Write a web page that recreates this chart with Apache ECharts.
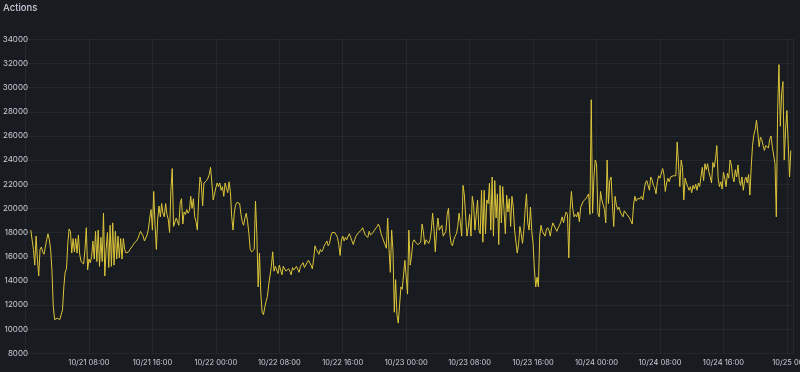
<!DOCTYPE html>
<html>
<head>
<meta charset="utf-8">
<script src="https://cdn.jsdelivr.net/npm/echarts@6/dist/echarts.min.js"></script>
<style>
html,body{margin:0;padding:0;background:#181b1f;}
#c{width:800px;height:372px;}
</style>
</head>
<body>
<div id="c"></div>
<script>
// Series: "Actions", one sample every 10 minutes starting 10/21 00:40 (UTC)
const seriesName = 'Actions';
const startTime = Date.UTC(2023, 9, 21, 0, 40);
const stepMinutes = 10;

const valuesPart1 = [
18200,18300,16600,15300,17700,15800,14400,16600,16800,16400,16200,16100,17400,17900,17400,16600,14900,11900,10800,10700,
10900,10800,10800,10900,11600,13500,14700,15000,17100,18300,18100,16300,17500,16400,17500,16300,17800,16200,15600,15500,
15400,16600,18400,14900,15800,15500,16000,17300,15800,18100,15600,18200,15200,17600,15600,19600,14400,16600,18000,15100,
18600,15200,18800,15300,18100,15800,17700,15900,17500,15800,17500,16600,16300,16200,16400,16600,16700,16900,17100,17200,
17300,17500,17800,18100,18200,17700,17300,17400,17800,18300,19200,19900,18200,21400,18600,16600,19100,20200,19300,20400,
19600,19300,20400,19500,19100,18000,21500,23300,18500,18600,19200,19100,18600,20400,20800,18700,19700,19500,19900,19600,
19800,21000,20000,20800,19300,18900,18200,20800,22600,22100,20200,22100,22200,22300,22500,22800,23400,22100,20700,20600
];
const valuesPart2 = [
21700,22100,21800,22100,21500,21800,21000,22100,21700,21300,22200,21400,19300,18200,19700,20300,20500,20600,20400,19500,
18900,18600,19200,19600,18900,17900,16600,16400,16500,16600,20600,17900,13500,16300,13000,11400,11200,11800,12300,12700,
13700,13700,15200,16400,14800,15200,15300,14600,15300,14900,14500,15200,15300,14800,14700,15000,14800,14500,15100,14900,
14800,15200,15300,14700,15200,15300,15500,15100,15200,15500,15700,15600,15300,15000,15800,16900,16600,16600,16200,16600,
16400,16600,16900,17100,17300,16900,17100,17700,18000,18100,18000,17900,17600,17000,16100,17400,17700,17300,17600,17400,
17700,17900,17600,17300,17000,17400,17700,17800,18000,17900,18200,18400,18400,17800,17900,17600,18100,17800,17700,18000,
18200,18300,18500,18700,18400,17900,17600,17300,17200,16700,19200,16600,14700,18200,16500,11400,14100,11200,10500,10600,
13500,13300,14500
];
const valuesPart3 = [
15700,15600,12900,18200,15300,16000,17200,17400,17200,17200,17000,17000,17200,18700,18100,17000,17400,17500,17100,17400,
18200,19600,18300,16400,18100,19200,18200,18200,18600,17700,17700,18100,19500,20000,17900,17100,16900,17400,17700,17900,
18500,19600,18800,17700,21900,21100,19300,17700,18500,19500,17700,21000,20300,18200,19500,20700,18200,17900,21500,17200,
21500,17900,20700,20400,22100,18200,22600,17700,22300,19200,21200,17000,21900,18800,21800,19900,17900,21100,19700,20800,
18500,21000,20100,18200,18300,16300,17000,18500,17900,17100,18200,19900,21200,18800,18200,20100,18100,17100,14900,13500,
14300,13500,17700,18600,18100,18200,17700,18200,18400,18200,17700,18400,18800,18800,18300,18100,18400,18600,18900,19300,
18800,19300,19700,19500,15900,19900,21400,20000,19300,19500,19300,19700,18900,20100,20200,20600,20700,20800,21000,21200,
19500,29000,19600,22500
];
const valuesPart4 = [
24000,23700,19600,19300,21400,20700,20300,19900,18800,24000,20400,22300,22600,20400,18500,21000,20300,19900,20100,19700,
19600,19300,19800,19700,19500,19600,19200,19200,18700,20300,21000,20600,20800,20700,20800,21000,20700,21500,22100,22300,
22400,21500,22600,22400,21900,21700,21200,22200,22700,22500,22500,23300,22800,21400,22100,22500,22200,22600,22500,22700,
22800,22700,25500,25400,21800,24000,23400,20700,22500,22100,21800,21500,21800,21300,21900,21600,22000,21500,22100,21800,
21700,23400,22300,23700,23200,23700,23000,22600,22100,23800,23400,24100,25200,22500,21800,22200,21600,23000,22500,21800,
22900,22500,24000,23600,22600,22200,23200,22600,23600,22300,21900,22600,21500,22300,22600,22100,22800,21100,23400,25200,
26100,26500,27300,26300,25100,25900,25700,25200,24800,25200,25200,25000,25700,26000,25100,25200,23700,19300,28100,31900,
26800,29500,30500,24000,26500,28100,25400,22600,24800
];
const values = valuesPart1.concat(valuesPart2, valuesPart3, valuesPart4);

// Axis settings
const yMin = 8000, yMax = 34000, yStep = 2000;
const xMin = Date.UTC(2023, 9, 21, 0, 0);
const xMax = Date.UTC(2023, 9, 25, 0, 50);
const xStepHours = 8;

const stepMs = stepMinutes * 60 * 1000;
const data = values.map((v, i) => [startTime + i * stepMs, v]);

function pad(n){ return (n < 10 ? '0' : '') + n; }
function fmtTime(v){
  if (v < startTime) return '';
  const d = new Date(v);
  return pad(d.getUTCMonth() + 1) + '/' + pad(d.getUTCDate()) + ' ' + pad(d.getUTCHours()) + ':' + pad(d.getUTCMinutes());
}

const textColor = '#ccccdc';
const gridColor = 'rgba(240,250,255,0.055)';
const fontFam = 'Inter, "Noto Sans", sans-serif';

const chart = echarts.init(document.getElementById('c'), null, {renderer: 'canvas'});
chart.setOption({
  backgroundColor: '#181b1f',
  animation: false,
  title: {
    text: seriesName,
    left: 3, top: 3, padding: 0,
    textStyle: {color: textColor, fontSize: 9.5, fontWeight: 500, fontFamily: fontFam}
  },
  grid: {left: 25.5, right: 6.5, top: 39.3, bottom: 18.7, containLabel: false, outerBoundsMode: 'none'},
  xAxis: {
    type: 'value',
    min: xMin, max: xMax,
    interval: xStepHours * 3600 * 1000,
    axisLine: {show: false},
    axisTick: {show: false},
    splitLine: {show: true, lineStyle: {color: gridColor, width: 1}},
    axisLabel: {
      color: textColor, fontSize: 7.5, fontFamily: fontFam, margin: 5.5,
      formatter: fmtTime, showMinLabel: true, showMaxLabel: true, hideOverlap: false
    }
  },
  yAxis: {
    type: 'value',
    min: yMin, max: yMax, interval: yStep,
    axisLine: {show: false},
    axisTick: {show: false},
    splitLine: {show: true, lineStyle: {color: gridColor, width: 1}},
    axisLabel: {color: textColor, fontSize: 8, fontFamily: fontFam, margin: -2.5, align: 'right',
      formatter: function(v){ return String(v); }}
  },
  series: [{
    name: seriesName,
    type: 'line',
    data: data,
    showSymbol: false,
    symbol: 'none',
    lineStyle: {color: '#DCC53A', width: 1},
    itemStyle: {color: '#DCC53A'}
  }]
});
</script>
</body>
</html>
